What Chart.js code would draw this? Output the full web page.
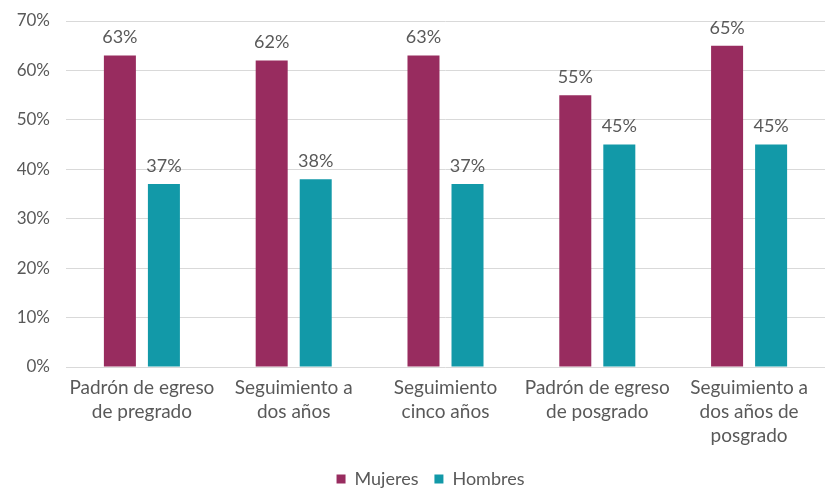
<!DOCTYPE html>
<html>
<head>
<meta charset="utf-8">
<script src="https://cdn.jsdelivr.net/npm/chart.js@4"></script>
<style>
  html, body { margin: 0; padding: 0; background: #fff; }
  #wrap { width: 825px; height: 488px; }
</style>
</head>
<body>
<div id="wrap"><canvas id="chart"></canvas></div>
<script>
// Categorias y valores (%)
const categories = [
  ['Padrón de egreso', 'de pregrado'],
  ['Seguimiento a', 'dos años'],
  ['Seguimiento', 'cinco años'],
  ['Padrón de egreso', 'de posgrado'],
  ['Seguimiento a', 'dos años de', 'posgrado']
];
const mujeres = [63, 62, 63, 55, 65];
const hombres = [37, 38, 37, 45, 45];

const GRAY = '#595959';
const FONT = 'Lato, "Open Sans", sans-serif';

// etiquetas encima de cada barra
const barLabels = {
  id: 'barLabels',
  afterDatasetsDraw(chart) {
    const ctx = chart.ctx;
    ctx.save();
    ctx.font = '18px ' + FONT;
    ctx.fillStyle = GRAY;
    ctx.textAlign = 'center';
    ctx.textBaseline = 'bottom';
    chart.data.datasets.forEach((ds, i) => {
      chart.getDatasetMeta(i).data.forEach((bar, j) => {
        ctx.fillText(ds.data[j] + '%', bar.x, bar.y - 9);
      });
    });
    ctx.restore();
  }
};

// la leyenda del original queda algo a la derecha del centro
const legendShift = {
  id: 'legendShift',
  afterLayout(chart) {
    chart.legend.left += 18;
    chart.legend.right += 18;
  }
};

new Chart(document.getElementById('chart'), {
  type: 'bar',
  data: {
    labels: categories,
    datasets: [
      { label: 'Mujeres', data: mujeres, backgroundColor: '#982C5F' },
      { label: 'Hombres', data: hombres, backgroundColor: '#1299A8' }
    ]
  },
  options: {
    responsive: true,
    maintainAspectRatio: false,
    animation: false,
    categoryPercentage: 0.58,
    barPercentage: 0.727,
    layout: { padding: { top: 21, right: 0, left: 0, bottom: -10 } },
    plugins: {
      legend: {
        position: 'bottom',
        labels: {
          color: GRAY,
          font: { family: FONT, size: 18 },
          boxWidth: 9, boxHeight: 9,
          padding: 16
        }
      },
      tooltip: { enabled: false }
    },
    scales: {
      x: {
        grid: { display: false },
        border: { display: false },
        ticks: { color: GRAY, font: { family: FONT, size: 19, lineHeight: 1.27 }, maxRotation: 0, padding: 1 },
        afterFit: s => { s.height = 87; }
      },
      y: {
        min: 0, max: 70,
        ticks: { stepSize: 10, color: GRAY, font: { family: FONT, size: 17 }, padding: 16,
                 callback: v => v + '%' },
        grid: { color: '#d9d9d9', drawTicks: false },
        border: { display: false },
        afterFit: s => { s.width = 66; s.paddingTop = 0; s.paddingBottom = 0; }
      }
    }
  },
  plugins: [barLabels, legendShift]
});
</script>
</body>
</html>
